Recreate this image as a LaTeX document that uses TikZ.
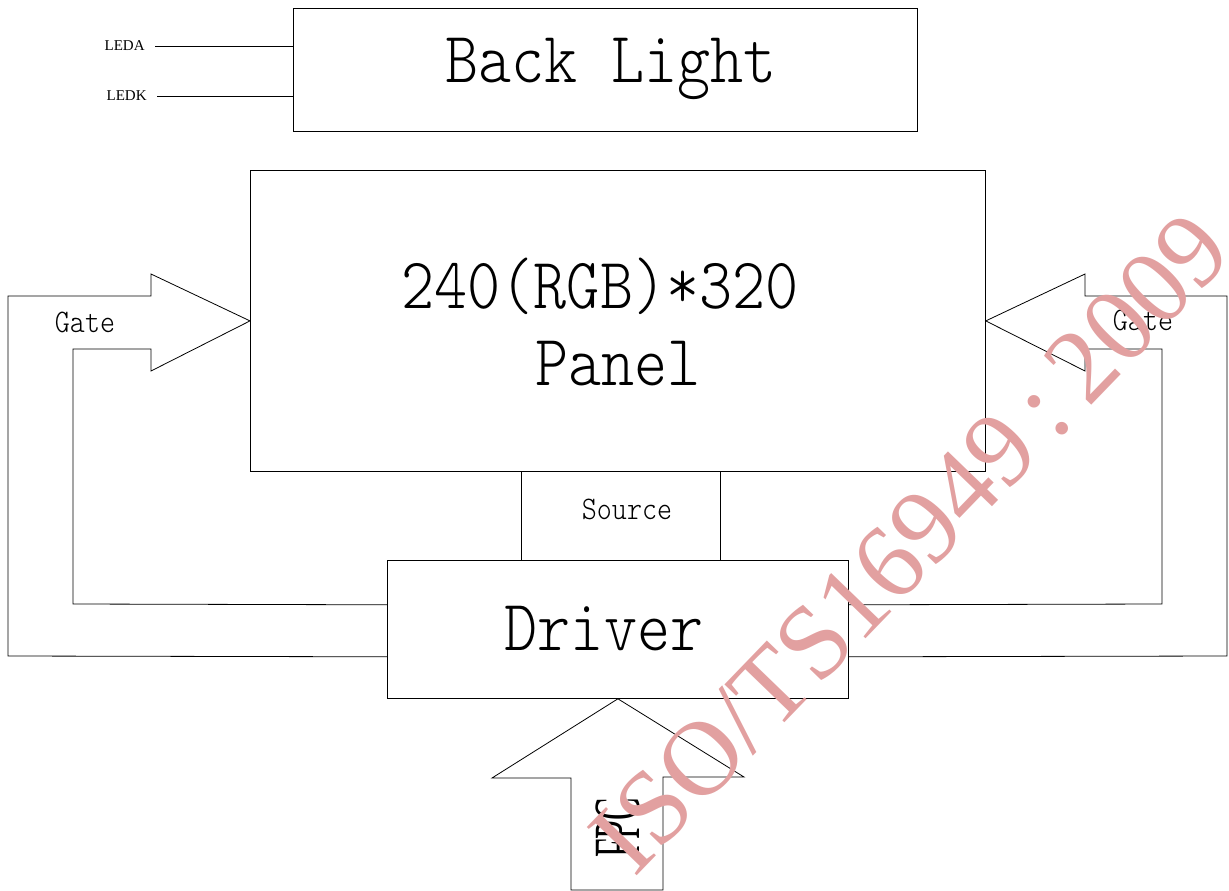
\documentclass[tikz,border=0pt]{standalone}
\usepackage{fontspec}
\setmainfont{Liberation Serif}
\setmonofont{Latin Modern Mono Light}
\definecolor{stamp}{RGB}{226,160,160}
\newcommand{\tallmono}[1]{\scalebox{1}[1.15]{\ttfamily #1}}
\tikzset{
  blockbox/.style={draw, anchor=north west, inner sep=0pt},
  bigtext/.style={anchor=base, inner sep=0pt, font=\fontsize{63}{68}\selectfont},
  midtext/.style={anchor=base, inner sep=0pt, font=\fontsize{28.6}{32}\selectfont},
  pintext/.style={anchor=east, inner sep=0pt, inner xsep=10pt, font=\fontsize{15}{17}\selectfont}
}
\begin{document}
\begin{tikzpicture}[x=1pt, y=-1pt, line width=0.8pt]
  \useasboundingbox (0,0) rectangle (1229,891);
  % blocks
  \node[blockbox, minimum width=624pt, minimum height=123pt] (bl) at (293,8) {};
  \node[blockbox, minimum width=735pt, minimum height=301pt] (pnl) at (250,170) {};
  \node[blockbox, minimum width=461pt, minimum height=138pt] (drv) at (387,560) {};
  \node[bigtext] (bltxt) at (611,82) {\tallmono{Back Light}};
  \node[bigtext] (pnltxt) at (600,308) {\tallmono{240(RGB)*320}};
  \node[bigtext] (pnlname) at (618,385) {\tallmono{Panel}};
  \node[bigtext] (drvtxt) at (604,650) {\tallmono{Driver}};
  % backlight pins
  \node[pintext] (leda) at (155,46) {LEDA};
  \node[pintext] (ledk) at (157,96) {LEDK};
  \draw (leda.east) -- (leda.east -| bl.west);
  \draw (ledk.east) -- (ledk.east -| bl.west);
  % source bus
  \draw ([xshift=271pt]pnl.south west) -- ([xshift=134pt]drv.north west);
  \draw ([xshift=470pt]pnl.south west) -- ([xshift=333pt]drv.north west);
  \node[midtext] (src) at (627,519) {\tallmono{Source}};
  % gate arrows
  \draw ([yshift=42pt]drv.south west) -- (8,656) -- (8,296) -- (151,296) -- (151,274)
    -- (pnl.west) -- (151,371) -- (151,349) -- (73,349) -- (73,604) -- ([yshift=94pt]drv.south west);
  \draw ([yshift=42pt]drv.south east) -- (1227,656) -- (1227,296) -- (1085,296) -- (1085,274)
    -- (pnl.east) -- (1085,371) -- (1085,349) -- (1162,349) -- (1162,604) -- ([yshift=94pt]drv.south east);
  \node[midtext] (gatel) at (85,332) {\tallmono{Gate}};
  \node[midtext] (gater) at (1143,330) {\tallmono{Gate}};
  % FPC input
  \draw (drv.south) -- (744,777) -- (663,777) -- (663,890) -- (571,890) -- (571,778) -- (492,778) -- cycle;
  \node[anchor=base, inner sep=0pt, rotate=90, font=\fontsize{66}{70}\selectfont] (fpc) at (639,828)
    {\scalebox{0.51}[1]{FPC}};
  % stamp
  \node[rotate=46, inner sep=0pt, text=stamp, font=\fontsize{106}{114}\selectfont] (stmp) at (910,543)
    {ISO/TS16949\,:\,2009};
\end{tikzpicture}
\end{document}
